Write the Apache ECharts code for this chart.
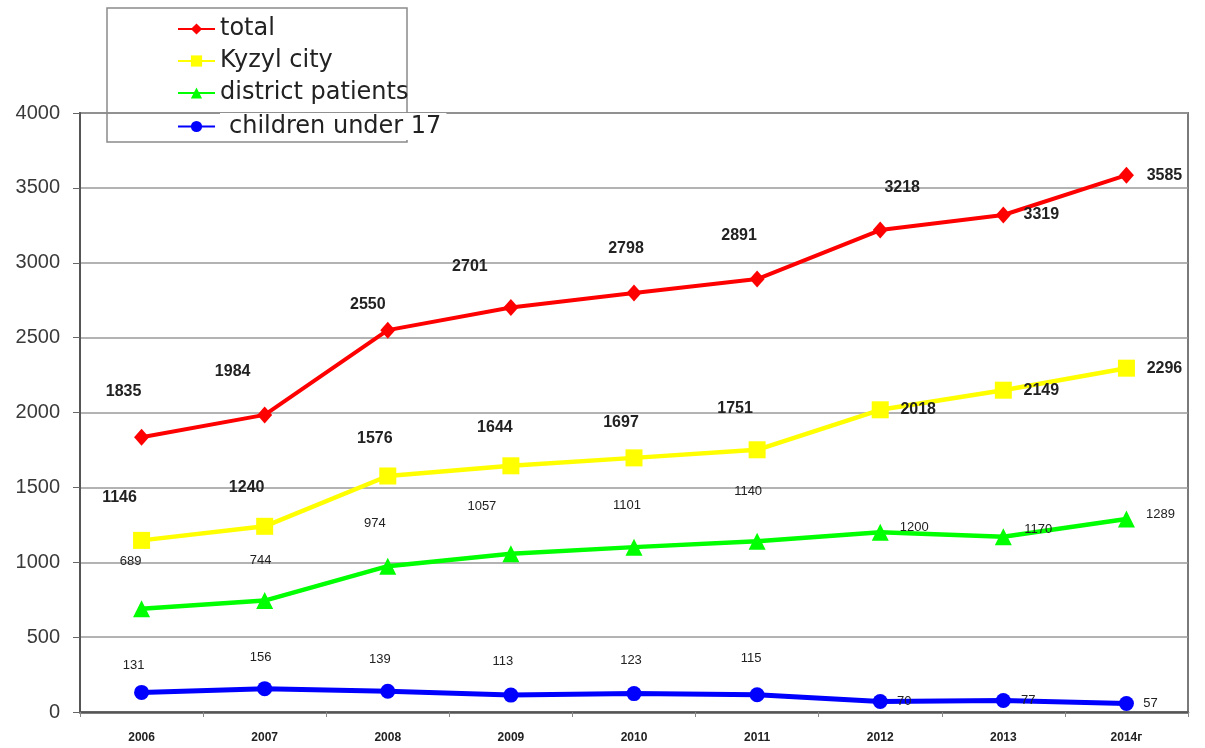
<!DOCTYPE html>
<html>
<head>
<meta charset="utf-8">
<title>Patients by year</title>
<script src="https://cdn.jsdelivr.net/npm/echarts@6/dist/echarts.min.js"></script>
<style>
  html, body { margin: 0; padding: 0; background: #fff; }
  #chart { width: 1205px; height: 748px; }
</style>
</head>
<body>
<div id="chart"></div>
<script>
// Year categories and yearly counts per group
const years = ['2006', '2007', '2008', '2009', '2010', '2011', '2012', '2013', '2014г'];
const total = [1835, 1984, 2550, 2701, 2798, 2891, 3218, 3319, 3585];
const kyzylCity = [1146, 1240, 1576, 1644, 1697, 1751, 2018, 2149, 2296];
const districtPatients = [689, 744, 974, 1057, 1101, 1140, 1200, 1170, 1289];
const childrenUnder17 = [131, 156, 139, 113, 123, 115, 70, 77, 57];
const yTicks = [0, 500, 1000, 1500, 2000, 2500, 3000, 3500, 4000];

// Where each value label sits relative to its point (px: dx, dy)
const labelShift = {
  total:    [[-18,-46],[-32,-43],[-20,-26],[-41,-41],[-8,-44],[-18,-43],[22,-43],[38,0],[38,0]],
  kyzyl:    [[-22,-43],[-18,-39],[-13,-37],[-16,-38],[-13,-35],[-22,-41],[38,0],[38,0],[38,0]],
  district: [[-11,-47],[-4,-40],[-13,-43],[-29,-47],[-7,-42],[-9,-50],[34,-5],[35,-7],[34,-5]],
  children: [[-8,-27],[-4,-31],[-8,-32],[-8,-34],[-3,-33],[-6,-36],[24,0],[25,0],[24,0]]
};

function lineSeries(name, values, shifts, color, symbol, symbolSize, width, labelFont) {
  return {
    type: 'line',
    name: name,
    data: values.map((v, i) => ({ value: v, label: { offset: shifts[i] } })),
    symbol: symbol,
    symbolSize: symbolSize,
    lineStyle: { color: color, width: width },
    itemStyle: { color: color },
    animation: false,
    label: Object.assign({
      show: true,
      position: 'inside',
      color: '#222',
      fontFamily: 'Liberation Sans, Arial, sans-serif'
    }, labelFont)
  };
}

const bigLabel = { fontSize: 16, fontWeight: 'bold' };
const smallLabel = { fontSize: 13, fontWeight: 'normal' };

const chart = echarts.init(document.getElementById('chart'));
chart.setOption({
  backgroundColor: '#fff',
  animation: false,
  grid: {
    left: 80, right: 17, top: 113, bottom: 36,
    show: true, borderColor: '#7a7a7a', borderWidth: 2, backgroundColor: 'transparent'
  },
  graphic: [{
    type: 'rect',
    z: 1,
    shape: { x: 107, y: 8, width: 300, height: 134 },
    style: { fill: 'none', stroke: '#8a8a8a', lineWidth: 1.5 }
  }],
  legend: {
    orient: 'vertical',
    left: 172,
    top: 12,
    itemGap: 8,
    itemWidth: 37,
    itemHeight: 14,
    textStyle: { fontSize: 24, lineHeight: 24, color: '#222', fontFamily: 'DejaVu Sans, Verdana, sans-serif' },
    data: [
      { name: 'total' },
      { name: 'Kyzyl city' },
      { name: 'district patients' },
      { name: 'children under 17', textStyle: { backgroundColor: '#fff', padding: [3, 5, 0, 9] } }
    ]
  },
  xAxis: {
    type: 'category',
    data: years,
    boundaryGap: true,
    axisLine: { lineStyle: { color: '#555', width: 2.5 } },
    axisTick: { show: true, length: 5, interval: 0, lineStyle: { color: '#888' } },
    axisLabel: {
      margin: 20, fontSize: 12, fontWeight: 'bold', color: '#222',
      fontFamily: 'Liberation Sans, Arial, sans-serif', interval: 0
    },
    splitLine: { show: false }
  },
  yAxis: {
    type: 'value',
    min: yTicks[0],
    max: yTicks[yTicks.length - 1],
    interval: yTicks[1] - yTicks[0],
    axisLine: { show: true, lineStyle: { color: '#555', width: 2 } },
    axisTick: { show: true, length: 7, lineStyle: { color: '#666' } },
    axisLabel: {
      margin: 20, fontSize: 20, color: '#3a3a3a',
      fontFamily: 'Liberation Sans, Arial, sans-serif',
      formatter: v => String(v)
    },
    splitLine: { show: true, lineStyle: { color: '#9a9a9a', width: 1.5 } }
  },
  series: [
    lineSeries('total', total, labelShift.total, '#ff0000', 'diamond', [15, 17], 4, bigLabel),
    lineSeries('Kyzyl city', kyzylCity, labelShift.kyzyl, '#ffff00', 'rect', 17, 4.5, bigLabel),
    lineSeries('district patients', districtPatients, labelShift.district, '#00ff00', 'triangle', 17, 4.5, smallLabel),
    lineSeries('children under 17', childrenUnder17, labelShift.children, '#0000ff', 'circle', 15, 5, smallLabel)
  ]
});
</script>
</body>
</html>
